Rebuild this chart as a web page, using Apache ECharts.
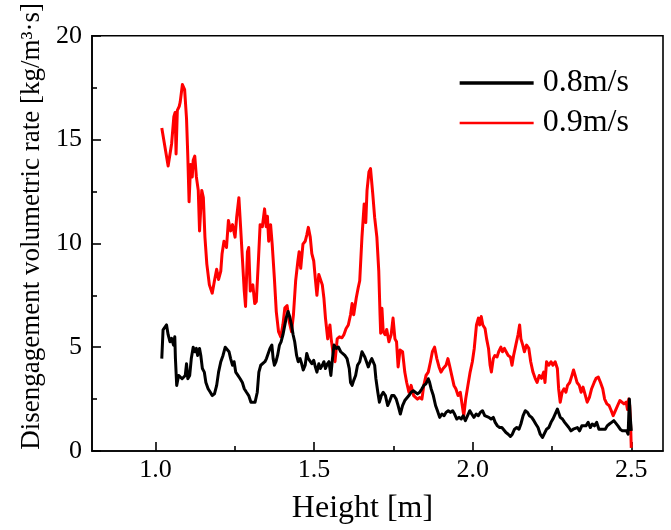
<!DOCTYPE html>
<html>
<head>
<meta charset="utf-8">
<script src="https://cdn.jsdelivr.net/npm/echarts@6/dist/echarts.min.js"></script>
<style>
  html, body { margin: 0; padding: 0; background: #fff; }
  #chart { width: 671px; height: 530px; }
</style>
</head>
<body>
<div id="chart"></div>
<script>
// Axis ticks and labels
const xMajorTicks = [1.0, 1.5, 2.0, 2.5];
const xMinorTicks = [1.25, 1.75, 2.25];
const seriesNames = ['0.8m/s', '0.9m/s'];

// 0.8 m/s : height [m] and disengagement rate [kg/m3 s]
const blackX = [1.020,1.024,1.030,1.035,1.040,1.046,1.051,1.057,1.061,1.063,1.067,1.073,1.078,1.084,1.089,1.094,1.098,1.102,1.108,1.113,1.119,1.124,1.129,1.133,1.139,1.143,1.148,1.154,1.159,1.166,1.173,1.179,1.186,1.193,1.199,1.206,1.213,1.220,1.226,1.232,1.237,1.243,1.248,1.253,1.260,1.267,1.274,1.280,1.287,1.294,1.301,1.307,1.314,1.321,1.326,1.332,1.338,1.345,1.350,1.356,1.361,1.367,1.371,1.375,1.380,1.385,1.391,1.396,1.402,1.408,1.412,1.418,1.423,1.429,1.434,1.439,1.445,1.450,1.456,1.461,1.466,1.472,1.477,1.482,1.488,1.493,1.499,1.504,1.509,1.515,1.520,1.526,1.531,1.536,1.542,1.547,1.553,1.558,1.563,1.570,1.577,1.584,1.590,1.597,1.604,1.611,1.615,1.620,1.625,1.631,1.637,1.644,1.651,1.655,1.660,1.666,1.671,1.677,1.682,1.687,1.691,1.695,1.701,1.706,1.712,1.718,1.725,1.732,1.739,1.745,1.752,1.759,1.765,1.772,1.779,1.786,1.792,1.799,1.806,1.813,1.819,1.826,1.833,1.840,1.846,1.853,1.860,1.864,1.869,1.876,1.883,1.889,1.896,1.903,1.910,1.916,1.923,1.930,1.937,1.943,1.950,1.957,1.964,1.970,1.977,1.984,1.991,1.997,2.004,2.011,2.018,2.024,2.031,2.038,2.044,2.051,2.058,2.065,2.071,2.078,2.085,2.092,2.098,2.105,2.112,2.119,2.125,2.132,2.139,2.146,2.152,2.159,2.166,2.173,2.179,2.186,2.193,2.199,2.206,2.213,2.220,2.226,2.233,2.240,2.247,2.253,2.260,2.267,2.271,2.276,2.283,2.290,2.296,2.303,2.310,2.317,2.323,2.330,2.337,2.344,2.350,2.357,2.364,2.371,2.377,2.384,2.391,2.398,2.404,2.411,2.418,2.424,2.431,2.438,2.445,2.451,2.458,2.465,2.472,2.478,2.485,2.490,2.494,2.497,2.500];
const blackY = [4.45,5.83,5.90,6.07,5.60,5.26,5.43,5.10,5.50,4.45,3.16,3.64,3.64,3.48,3.56,3.64,4.20,3.48,3.64,4.45,5.00,4.78,4.94,4.60,4.94,4.60,3.97,3.80,3.30,3.00,2.83,2.67,2.75,3.16,3.80,4.30,4.60,5.00,4.94,4.78,4.45,4.13,4.30,3.80,3.64,3.48,3.30,3.00,2.83,2.67,2.35,2.27,2.35,2.83,3.80,4.13,4.20,4.30,4.45,4.37,4.94,5.10,4.45,4.13,4.30,4.60,5.10,5.26,5.60,5.67,6.40,6.72,6.48,6.07,5.60,5.26,4.60,4.30,4.45,4.20,3.90,4.13,4.70,4.45,4.45,4.20,4.37,4.05,3.80,4.20,3.97,4.13,4.30,3.97,4.20,4.30,3.64,4.45,5.10,4.94,5.00,4.78,4.78,4.60,4.45,3.97,3.30,3.16,3.40,3.64,4.13,4.30,4.78,4.78,4.53,4.45,4.05,4.30,4.45,4.45,4.13,3.48,2.83,2.35,2.67,2.83,2.67,2.19,2.43,2.67,2.67,2.50,2.19,1.78,2.19,2.43,2.35,2.67,2.83,2.90,2.90,2.75,2.83,3.00,3.16,3.24,3.48,3.32,3.00,2.67,2.19,1.94,1.62,1.78,1.70,1.86,1.94,1.86,1.94,1.78,1.54,1.62,1.54,1.70,1.46,1.70,1.94,1.78,1.62,1.78,1.70,1.86,1.94,1.70,1.78,1.62,1.54,1.62,1.38,1.21,1.13,1.13,1.05,0.89,0.81,0.70,0.81,1.05,1.13,1.05,1.30,1.70,1.94,1.86,1.70,1.62,1.46,1.30,1.13,0.81,0.65,0.73,1.05,1.13,1.38,1.54,1.78,2.02,2.10,1.62,1.54,1.38,1.38,1.13,0.97,1.05,0.97,1.13,0.97,1.21,1.30,1.21,1.38,1.13,1.30,1.21,1.38,1.05,0.97,1.05,1.05,1.21,1.30,1.38,1.46,1.38,1.21,1.05,0.97,0.89,0.97,0.81,2.50,1.60,0.97];

// 0.9 m/s : height [m] and disengagement rate [kg/m3 s]
const redX = [1.020,1.040,1.051,1.058,1.062,1.065,1.069,1.075,1.078,1.085,1.092,1.098,1.102,1.106,1.111,1.116,1.119,1.124,1.129,1.135,1.139,1.146,1.151,1.156,1.162,1.170,1.179,1.186,1.193,1.199,1.206,1.210,1.216,1.224,1.230,1.237,1.243,1.251,1.256,1.263,1.268,1.274,1.280,1.284,1.290,1.294,1.299,1.307,1.313,1.318,1.325,1.330,1.337,1.344,1.349,1.353,1.357,1.363,1.368,1.375,1.381,1.388,1.395,1.402,1.408,1.415,1.422,1.429,1.435,1.442,1.449,1.453,1.458,1.465,1.472,1.477,1.482,1.488,1.493,1.499,1.504,1.509,1.515,1.520,1.526,1.531,1.536,1.543,1.550,1.554,1.561,1.566,1.573,1.580,1.588,1.594,1.601,1.608,1.615,1.620,1.625,1.633,1.639,1.644,1.651,1.658,1.663,1.667,1.673,1.678,1.685,1.691,1.698,1.704,1.708,1.710,1.714,1.718,1.724,1.729,1.736,1.743,1.749,1.755,1.760,1.765,1.771,1.779,1.786,1.792,1.799,1.806,1.814,1.819,1.826,1.833,1.840,1.846,1.853,1.860,1.867,1.873,1.880,1.887,1.894,1.900,1.907,1.916,1.922,1.927,1.934,1.941,1.947,1.954,1.961,1.968,1.972,1.978,1.985,1.992,1.999,2.005,2.012,2.018,2.022,2.027,2.032,2.039,2.044,2.050,2.055,2.059,2.065,2.070,2.077,2.082,2.089,2.094,2.100,2.106,2.112,2.119,2.124,2.129,2.136,2.143,2.148,2.152,2.158,2.163,2.170,2.177,2.183,2.190,2.197,2.203,2.210,2.217,2.224,2.228,2.233,2.240,2.247,2.253,2.260,2.267,2.271,2.276,2.282,2.288,2.294,2.299,2.306,2.313,2.318,2.323,2.329,2.336,2.342,2.348,2.354,2.361,2.368,2.375,2.383,2.389,2.396,2.403,2.410,2.416,2.423,2.430,2.437,2.443,2.450,2.457,2.464,2.470,2.477,2.484,2.488,2.492,2.495,2.498,2.500];
const redY = [15.55,13.73,14.80,16.10,16.30,14.30,16.40,16.60,16.80,17.65,17.40,16.00,14.20,12.00,13.80,13.20,14.00,14.20,13.20,12.55,10.60,12.55,12.20,10.30,9.00,8.00,7.60,8.20,8.75,8.26,8.66,9.50,10.10,9.80,11.10,10.60,10.90,10.30,11.25,12.20,10.90,9.30,7.70,6.96,9.60,9.80,7.70,8.00,7.10,7.20,9.30,10.90,10.80,11.66,10.80,11.30,10.10,10.90,9.96,8.30,6.70,5.75,5.50,6.10,6.90,7.00,6.20,5.75,6.56,8.20,9.15,9.60,8.80,9.96,10.10,10.40,10.77,10.30,9.50,9.15,8.30,7.50,8.50,8.50,8.00,7.37,6.40,5.40,6.07,5.40,4.60,4.30,5.40,5.50,5.45,5.60,5.90,6.07,6.56,7.10,6.56,7.37,7.85,8.20,10.30,11.90,11.00,12.55,13.44,13.60,12.40,11.25,10.30,8.66,6.56,5.67,6.87,5.75,5.60,5.85,5.26,5.60,6.40,5.40,5.26,4.05,4.86,4.78,3.80,3.30,2.83,3.16,2.67,2.75,2.50,2.58,2.50,3.16,3.64,3.80,4.30,4.78,5.00,4.45,4.05,3.80,3.97,4.13,4.45,4.13,3.64,3.16,3.00,2.67,2.83,2.10,1.70,2.50,3.16,3.80,4.30,4.94,6.07,6.40,6.07,6.48,6.07,5.90,5.40,4.94,4.13,3.80,4.45,4.60,4.53,4.78,5.00,4.78,4.94,4.94,4.60,4.53,4.13,4.60,5.10,5.60,6.07,5.40,5.10,4.78,5.10,4.94,4.30,3.80,3.50,3.30,3.64,3.50,3.80,3.30,4.30,4.13,4.30,4.13,4.30,3.97,3.00,2.35,2.83,3.00,2.83,3.16,3.30,3.64,3.90,3.64,3.30,3.16,2.83,3.08,3.00,2.35,2.58,3.00,3.30,3.50,3.56,3.30,3.00,2.50,2.27,2.19,1.94,1.70,1.94,2.19,2.43,2.43,2.27,2.35,2.00,2.50,2.19,1.20,0.15];

const pairs = (xs, ys) => xs.map((x, i) => [x, ys[i]]);

const FONT = '"Liberation Serif", "Times New Roman", serif';

const chart = echarts.init(document.getElementById('chart'), null, { renderer: 'canvas' });

chart.setOption({
  animation: false,
  backgroundColor: '#ffffff',
  grid: {
    left: 92, right: 8, top: 33, bottom: 79,
    show: true, borderColor: '#000', borderWidth: 1.6, backgroundColor: 'transparent'
  },
  legend: {
    show: true,
    orient: 'vertical',
    left: 458, top: 67, padding: 0,
    itemWidth: 74, itemHeight: 14, itemGap: 8,
    textStyle: { fontFamily: FONT, fontSize: 32, color: '#000', lineHeight: 31, padding: [0, 0, 0, 4] },
    data: [
      { name: seriesNames[0], itemStyle: { opacity: 0 }, lineStyle: { width: 3.3, color: '#000' } },
      { name: seriesNames[1], itemStyle: { opacity: 0 }, lineStyle: { width: 2.3, color: '#ff0000' } }
    ]
  },
  xAxis: [
    {
      type: 'value', min: 0.8, max: 2.6,
      name: 'Height [m]', nameLocation: 'middle', nameGap: 42,
      nameTextStyle: { fontFamily: FONT, fontSize: 32, color: '#000', padding: [0, 30, 0, 0] },
      axisLine: { show: true, onZero: false, lineStyle: { color: '#000', width: 1.6 } },
      axisTick: { show: true, inside: true, length: 9, customValues: xMajorTicks, lineStyle: { color: '#000', width: 1.6 } },
      axisLabel: {
        customValues: xMajorTicks, margin: 6,
        fontFamily: FONT, fontSize: 26, color: '#000',
        formatter: v => v.toFixed(1)
      },
      splitLine: { show: false }
    },
    {
      type: 'value', min: 0.8, max: 2.6, position: 'bottom',
      axisLine: { show: false },
      axisTick: { show: true, inside: true, length: 5, customValues: xMinorTicks, lineStyle: { color: '#000', width: 1.6 } },
      axisLabel: { show: false },
      splitLine: { show: false }
    }
  ],
  yAxis: {
    type: 'value', min: 0, max: 20, interval: 5,
    name: 'Disengagement volumetric rate [kg/m³·s]',
    nameLocation: 'middle', nameRotate: 90, nameGap: 46,
    nameTextStyle: { fontFamily: FONT, fontSize: 27, color: '#000', padding: [0, 0, 0, 34] },
    axisLine: { show: true, lineStyle: { color: '#000', width: 1.6 } },
    axisTick: { show: true, inside: true, length: 9, lineStyle: { color: '#000', width: 1.6 } },
    minorTick: { show: true, splitNumber: 2, length: 5, lineStyle: { color: '#000', width: 1.6 } },
    axisLabel: { margin: 10, fontFamily: FONT, fontSize: 26, color: '#000' },
    splitLine: { show: false }
  },
  series: [
    {
      name: seriesNames[0], type: 'line', xAxisIndex: 0,
      data: pairs(blackX, blackY),
      symbol: 'none', color: '#000',
      lineStyle: { color: '#000', width: 3, join: 'round' },
      z: 3
    },
    {
      name: seriesNames[1], type: 'line', xAxisIndex: 0,
      data: pairs(redX, redY),
      symbol: 'none', color: '#ff0000',
      lineStyle: { color: '#ff0000', width: 3, join: 'round' },
      z: 2
    }
  ]
});
</script>
</body>
</html>
